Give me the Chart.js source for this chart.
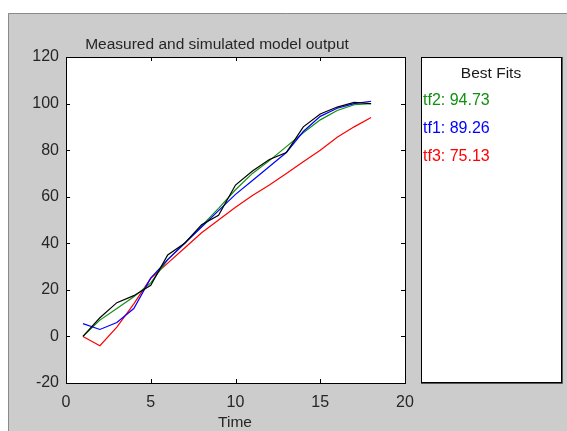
<!DOCTYPE html>
<html>
<head>
<meta charset="utf-8">
<script src="https://cdn.jsdelivr.net/npm/chart.js@4.4.0/dist/chart.umd.min.js"></script>
<style>
  html, body { margin: 0; padding: 0; background: #fff; }
  #wrap { width: 567px; height: 431px; position: relative; }
</style>
</head>
<body>
<div id="wrap"><canvas id="chart" width="567" height="431"></canvas></div>
<script>
// data
const time = [1, 2, 3, 4, 5, 6, 7, 8, 9, 10, 11, 12, 13, 14, 15, 16, 17, 18];
const measured = [0, 8, 14.5, 17.5, 22, 35, 40, 48, 52, 65, 71, 76, 79, 90, 95.5, 98.5, 100.5, 100];
const tf1 = [5.5, 3, 6, 12, 25, 33, 40, 47, 54, 61, 67, 73, 79, 88, 94.5, 98, 100, 101];
const tf2 = [0, 7, 12, 17, 23, 33, 40, 47.5, 55, 63, 70, 75.5, 81.5, 87.5, 93, 97, 99.5, 100];
const tf3 = [0, -4, 4, 14, 25, 31.5, 38, 44.5, 50, 55.5, 60.5, 65, 70, 75, 80, 85.5, 90, 94];

const fitNames = ["tf2", "tf1", "tf3"];
const fitValues = ["94.73", "89.26", "75.13"];

const xTicks = [0, 5, 10, 15, 20];
const yTicks = [-20, 0, 20, 40, 60, 80, 100, 120];

const GRAY = "#cccccc";
const GREEN = "#109010";
const BLUE = "#0000ff";
const RED = "#ff0000";
const FONT = "'Liberation Sans', Arial, sans-serif";

const toPts = (ys) => ys.map((y, i) => ({ x: time[i], y: y }));

const frame = {
  id: "frame",
  beforeDraw(chart) {
    const ctx = chart.ctx;
    const a = chart.chartArea;
    ctx.save();
    ctx.fillStyle = "#fff";
    ctx.fillRect(0, 0, chart.width, chart.height);
    ctx.fillStyle = GRAY;
    ctx.fillRect(8, 13, chart.width - 8, chart.height - 13);
    ctx.strokeStyle = "#8a8a8a";
    ctx.lineWidth = 1;
    ctx.beginPath();
    ctx.moveTo(8.5, chart.height);
    ctx.lineTo(8.5, 13.5);
    ctx.lineTo(chart.width, 13.5);
    ctx.stroke();
    // plot area
    ctx.fillStyle = "#fff";
    ctx.fillRect(a.left, a.top, a.right - a.left, a.bottom - a.top);
    // legend panel
    ctx.fillRect(421, 57, 141, 326);
    ctx.restore();
  },
  afterDraw(chart) {
    const ctx = chart.ctx;
    const a = chart.chartArea;
    const xs = chart.scales.x;
    const ys = chart.scales.y;
    ctx.save();
    ctx.strokeStyle = "#000";
    ctx.lineWidth = 1;
    ctx.strokeRect(a.left + 0.5, a.top + 0.5, a.right - a.left, a.bottom - a.top);
    ctx.beginPath();
    xTicks.forEach((v) => {
      const px = Math.round(xs.getPixelForValue(v)) + 0.5;
      ctx.moveTo(px, a.bottom);
      ctx.lineTo(px, a.bottom - 4);
      ctx.moveTo(px, a.top);
      ctx.lineTo(px, a.top + 4);
    });
    yTicks.forEach((v) => {
      const py = Math.round(ys.getPixelForValue(v)) + 0.5;
      ctx.moveTo(a.left, py);
      ctx.lineTo(a.left + 4, py);
      ctx.moveTo(a.right, py);
      ctx.lineTo(a.right - 4, py);
    });
    ctx.stroke();

    // titles
    ctx.fillStyle = "#262626";
    ctx.font = "15.5px " + FONT;
    ctx.textAlign = "center";
    ctx.textBaseline = "middle";
    ctx.fillText("Measured and simulated model output", 217, 45);
    ctx.fillText("Time", 235, 423);

    // legend panel
    ctx.strokeStyle = "#000";
    ctx.strokeRect(421.5, 57.5, 140, 325);
    ctx.strokeStyle = "#555";
    ctx.beginPath();
    ctx.moveTo(562.5, 57);
    ctx.lineTo(562.5, 383.5);
    ctx.lineTo(421, 383.5);
    ctx.stroke();
    ctx.fillStyle = "#1a1a1a";
    ctx.fillText("Best Fits", 491, 74);
    ctx.textAlign = "left";
    ctx.font = "16px " + FONT;
    const cols = [GREEN, BLUE, RED];
    fitNames.forEach((n, i) => {
      ctx.fillStyle = cols[i];
      ctx.fillText(n + ": " + fitValues[i], 423, 101 + i * 28);
    });
    ctx.restore();
  },
};

new Chart(document.getElementById("chart"), {
  type: "line",
  data: {
    datasets: [
      { label: "measured", data: toPts(measured), borderColor: "#000" },
      { label: "tf1", data: toPts(tf1), borderColor: BLUE },
      { label: "tf2", data: toPts(tf2), borderColor: GREEN },
      { label: "tf3", data: toPts(tf3), borderColor: RED },
    ].map((d) => ({ ...d, borderWidth: 1.2, pointRadius: 0, tension: 0, fill: false })),
  },
  options: {
    responsive: false,
    animation: false,
    devicePixelRatio: 1,
    layout: { padding: { left: 0, top: 57, right: 162, bottom: 0 } },
    plugins: { legend: { display: false }, tooltip: { enabled: false }, title: { display: false } },
    scales: {
      x: {
        type: "linear",
        min: 0,
        max: 20,
        afterBuildTicks: (s) => { s.ticks = xTicks.map((v) => ({ value: v })); },
        afterFit: (s) => { s.height = 48; },
        grid: { display: false, drawTicks: false },
        border: { display: false },
        ticks: { color: "#262626", font: { size: 16, family: FONT }, padding: 10, maxRotation: 0 },
      },
      y: {
        min: -20,
        max: 120,
        afterBuildTicks: (s) => { s.ticks = yTicks.map((v) => ({ value: v })); },
        afterFit: (s) => { s.width = 66; },
        grid: { display: false, drawTicks: false },
        border: { display: false },
        ticks: { color: "#262626", font: { size: 16, family: FONT }, padding: 7 },
      },
    },
  },
  plugins: [frame],
});
</script>
</body>
</html>
